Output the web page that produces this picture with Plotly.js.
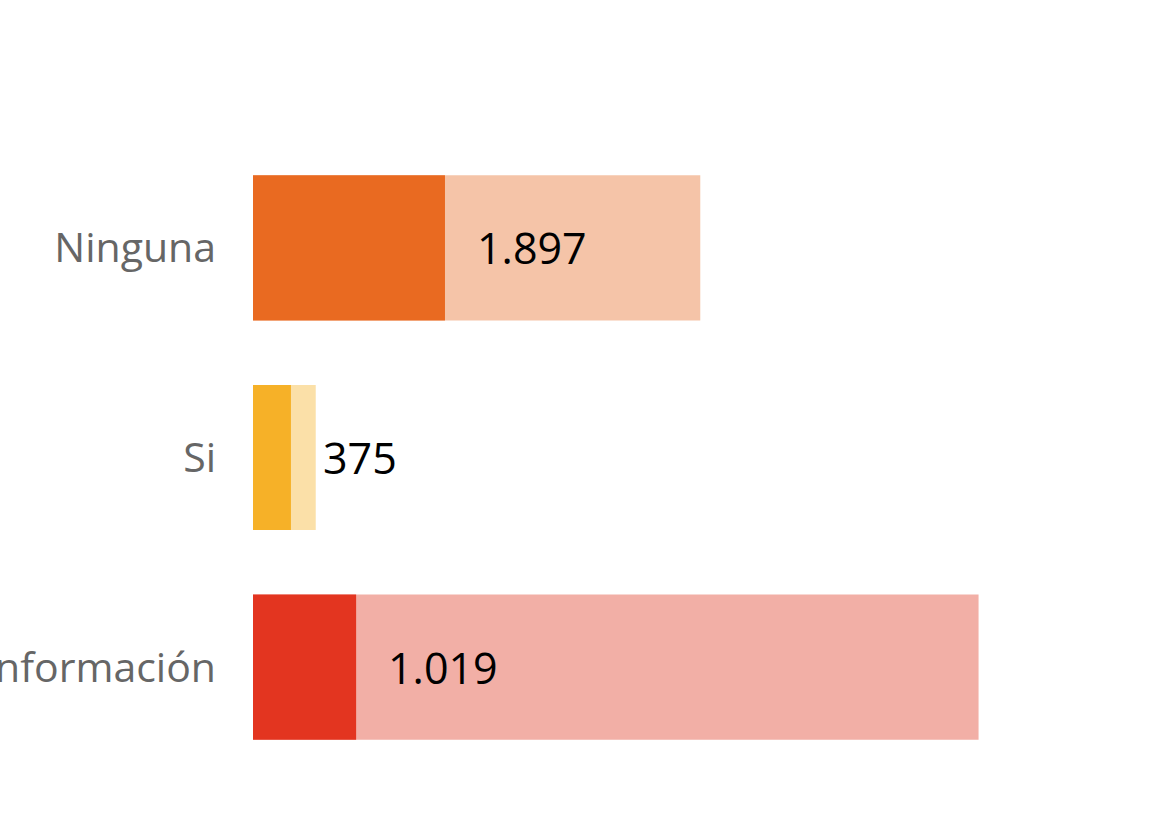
<!DOCTYPE html>
<html>
<head>
<meta charset="utf-8">
<script src="https://cdn.plot.ly/plotly-3.0.1.min.js"></script>
<style>html,body{margin:0;padding:0;background:#fff;}#chart{width:1152px;height:829px;}</style>
</head>
<body>
<div id="chart"></div>
<script>
const categories = ['Ninguna', 'Si', 'Sin información'];
const values = [1897, 375, 1019];
const totals = [4420, 620, 7170];
const valueLabels = ['1.897', '375', '1.019'];
const darkColors = ['#E96A21', '#F6B128', '#E33520'];
const lightColors = ['#F5C4A8', '#FBE0A8', '#F2AFA6'];

const FONT = '"Segoe UI", "Open Sans", "Noto Sans", sans-serif';

const traces = [
  {
    type: 'bar', orientation: 'h', y: categories, x: totals,
    marker: {color: lightColors, line: {width: 0}},
    hoverinfo: 'skip', showlegend: false
  },
  {
    type: 'bar', orientation: 'h', y: categories, x: values,
    marker: {color: darkColors, line: {width: 0}},
    hoverinfo: 'skip', showlegend: false
  }
];

const annotations = categories.map((c, i) => ({
  x: values[i], y: c, xref: 'x', yref: 'y',
  text: valueLabels[i], showarrow: false,
  xanchor: 'left', yanchor: 'middle', xshift: 30,
  font: {family: FONT, size: 43, color: '#000000'}
}));

const layout = {
  width: 1152, height: 829,
  margin: {l: 253, r: 52, t: 143, b: 57},
  paper_bgcolor: '#ffffff', plot_bgcolor: '#ffffff',
  barmode: 'overlay', bargap: 0.308,
  showlegend: false,
  xaxis: {range: [0, 8370], visible: false, showgrid: false, zeroline: false, fixedrange: true},
  yaxis: {
    autorange: 'reversed', showgrid: false, zeroline: false, showline: false,
    ticks: '', ticklabelstandoff: 36, automargin: false,
    tickfont: {family: FONT, size: 41, color: '#666666'}
  },
  annotations: annotations
};

Plotly.newPlot('chart', traces, layout, {displayModeBar: false, staticPlot: true});
</script>
</body>
</html>
